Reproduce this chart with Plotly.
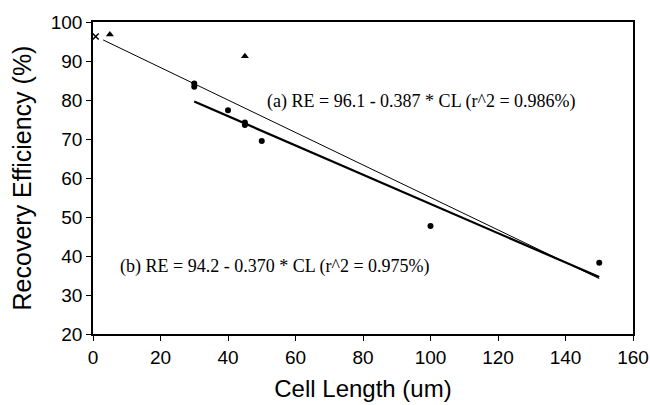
import plotly.graph_objects as go

# Data
circle_x = [30, 30, 40, 45, 45, 50, 100, 150]
circle_y = [84.2, 83.4, 77.4, 74.2, 73.6, 69.5, 47.7, 38.3]
tri_x = [5, 45]
tri_y = [96.8, 91.2]
cross_x = [0.8]
cross_y = [96.3]

line_a_x = [3, 150]
line_a_y = [95.4, 34.2]
line_b_x = [30, 150]
line_b_y = [79.6, 34.6]

ann_a = "(a) RE = 96.1 - 0.387 * CL (r^2 = 0.986%)"
ann_b = "(b) RE = 94.2 - 0.370 * CL (r^2 = 0.975%)"

fig = go.Figure()
fig.add_trace(go.Scatter(x=line_a_x, y=line_a_y, mode="lines",
                         line=dict(color="black", width=1), showlegend=False))
fig.add_trace(go.Scatter(x=line_b_x, y=line_b_y, mode="lines",
                         line=dict(color="black", width=2.2), showlegend=False))
fig.add_trace(go.Scatter(x=circle_x, y=circle_y, mode="markers",
                         marker=dict(symbol="circle", size=6, color="black"), showlegend=False))
fig.add_trace(go.Scatter(x=tri_x, y=tri_y, mode="markers",
                         marker=dict(symbol="triangle-up", size=7, color="black"), showlegend=False))
fig.add_trace(go.Scatter(x=cross_x, y=cross_y, mode="markers", cliponaxis=False,
                         marker=dict(symbol="x-thin", size=6, line=dict(color="black", width=1.5)),
                         showlegend=False))

fig.add_annotation(x=51, y=79.6, text=ann_a, showarrow=False, xanchor="left", yanchor="middle",
                   font=dict(family="Liberation Serif", size=18, color="black"))
fig.add_annotation(x=7.3, y=37.2, text=ann_b, showarrow=False, xanchor="left", yanchor="middle",
                   font=dict(family="Liberation Serif", size=18, color="black"))

fig.update_layout(
    width=650, height=405,
    margin=dict(l=93, r=17, t=22, b=71, autoexpand=False),
    paper_bgcolor="white", plot_bgcolor="white",
    font=dict(family="Liberation Sans", color="black"),
)
fig.update_xaxes(range=[0, 160], dtick=20, showgrid=False, zeroline=False, automargin=False,
                 showline=True, linecolor="black", linewidth=1.5, mirror=True,
                 ticks="outside", ticklen=5, tickcolor="black",
                 tickfont=dict(size=19), title=dict(text="Cell Length (um)", font=dict(size=24), standoff=14))
fig.update_yaxes(range=[20, 100], dtick=10, showgrid=False, zeroline=False, automargin=False,
                 showline=True, linecolor="black", linewidth=1.5, mirror=True,
                 ticks="outside", ticklen=5, tickcolor="black",
                 tickfont=dict(size=19), title=dict(text="Recovery Efficiency (%)", font=dict(size=25), standoff=12))

fig.write_html("out.html", config={"displayModeBar": False},
               post_script="document.body.style.margin='0';document.body.style.overflow='hidden';")
